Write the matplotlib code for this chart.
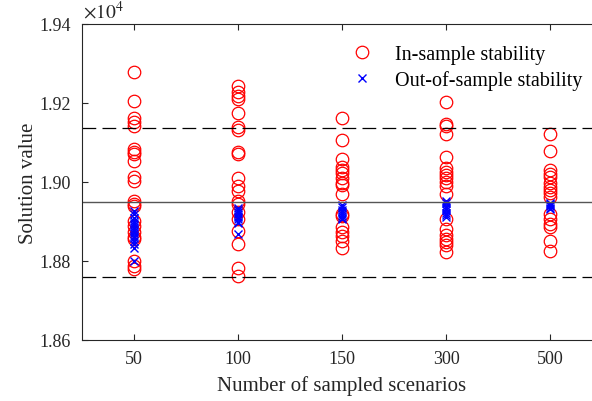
import matplotlib.pyplot as plt
import numpy as np
from matplotlib.ticker import FuncFormatter

plt.rcParams['font.family'] = ['Liberation Serif', 'DejaVu Serif']
plt.rcParams['mathtext.fontset'] = 'stix'

# Sample sizes and the solution values
scenarios = ['50', '100', '150', '300', '500']

in_sample = [
    [19279, 19206, 19162, 19151, 19141, 19084, 19077, 19071, 19054, 19013, 19003,
     18951, 18944, 18938, 18902, 18889, 18873, 18860, 18856, 18801, 18788, 18780],
    [19244, 19227, 19218, 19210, 19175, 19138, 19132, 19075, 19071, 19009, 18991,
     18978, 18951, 18944, 18923, 18906, 18877, 18843, 18782, 18761],
    [19162, 19107, 19057, 19037, 19031, 19023, 19009, 18997, 18992, 18970, 18919,
     18915, 18885, 18873, 18864, 18851, 18832],
    [19203, 19147, 19141, 19122, 19063, 19035, 19026, 19018, 19009, 18999, 18991,
     18970, 18906, 18881, 18867, 18856, 18847, 18840, 18822],
    [19122, 19078, 19031, 19020, 19012, 18997, 18988, 18980, 18971, 18961, 18919,
     18906, 18894, 18885, 18851, 18825],
]

out_sample = [
    [18927, 18918, 18910, 18902, 18896, 18890, 18885, 18880, 18875, 18870, 18864,
     18858, 18850, 18842, 18834, 18801],
    [18935, 18930, 18924, 18918, 18912, 18906, 18900, 18895, 18868],
    [18942, 18936, 18930, 18925, 18920, 18915, 18910, 18906],
    [18952, 18946, 18940, 18934, 18928, 18922, 18916, 18911],
    [18948, 18945, 18941, 18938, 18935, 18932],
]

mean_value = 18949
upper_bound = 19137
lower_bound = 18760

fig = plt.figure(figsize=(5.92, 4.02), dpi=100)
ax = fig.add_axes([82 / 592, 61 / 402, 520 / 592, 316 / 402])

for i in range(len(scenarios)):
    xs = np.full(len(in_sample[i]), i + 1)
    ax.plot(xs, in_sample[i], 'o', mfc='none', mec='red', ms=9, mew=0.9,
            label='In-sample stability' if i == 0 else None)
for i in range(len(scenarios)):
    xs = np.full(len(out_sample[i]), i + 1)
    ax.plot(xs, out_sample[i], 'x', color='blue', ms=6, mew=1.0,
            label='Out-of-sample stability' if i == 0 else None)

ax.axhline(mean_value, color='#555555', lw=1.0)
ax.axhline(upper_bound, color='black', lw=0.9, dashes=(11, 5))
ax.axhline(lower_bound, color='black', lw=0.9, dashes=(11, 5))

ax.set_xlim(0.5, 5.5)
ax.set_ylim(18600, 19400)
ax.set_xticks(range(1, len(scenarios) + 1))
ax.set_xticklabels(scenarios)
ax.set_yticks([18600, 18800, 19000, 19200, 19400])
ax.yaxis.set_major_formatter(FuncFormatter(lambda v, p: '%.2f' % (v / 1e4)))
ax.tick_params(direction='in', top=True, right=True, labelsize=13,
               colors='#262626', length=4, width=0.8)
ax.tick_params(axis='y', pad=8)
ax.tick_params(axis='x', pad=7)
for s in ax.spines.values():
    s.set_color('#262626')
    s.set_linewidth(0.8)

ax.text(0.002, 1.008, r'$\times 10^4$', transform=ax.transAxes, fontsize=14,
        color='#262626', va='bottom', ha='left')

ax.set_xlabel('Number of sampled scenarios', fontsize=15, color='#262626',
              labelpad=6)
ax.set_ylabel('Solution value', fontsize=15, color='#262626', labelpad=1)

ax.legend(loc='upper left', bbox_to_anchor=(0.475, 0.99), frameon=False,
          fontsize=14.5, handletextpad=0.9, labelspacing=0.3, handlelength=1.5)

fig.savefig('out.png', dpi=100)
